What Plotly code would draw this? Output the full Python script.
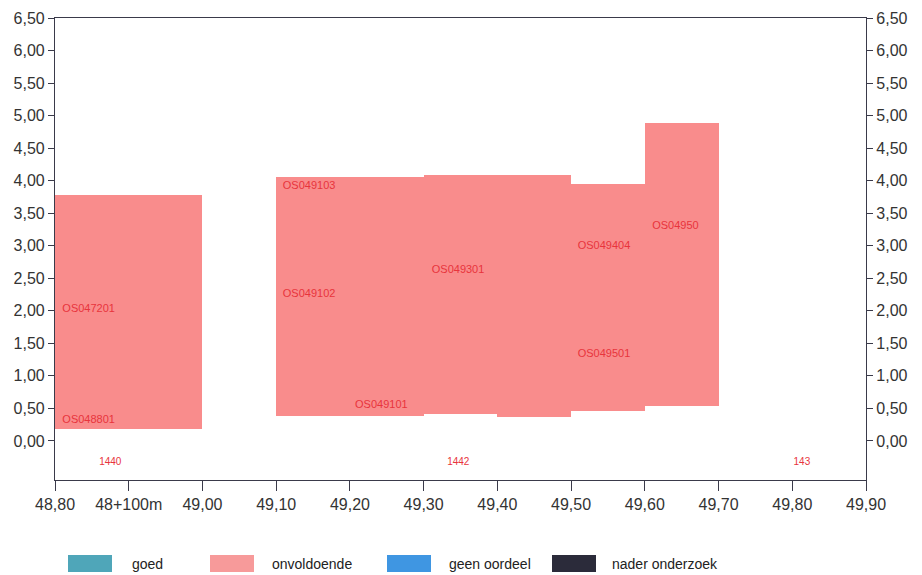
import plotly.graph_objects as go

# ---- data ----
seg_start = [48.80, 49.10, 49.20, 49.30, 49.40, 49.50, 49.60]
seg_end = [49.00, 49.20, 49.30, 49.40, 49.50, 49.60, 49.70]
seg_bottom = [0.18, 0.385, 0.385, 0.415, 0.365, 0.46, 0.54]
seg_top = [3.78, 4.06, 4.05, 4.09, 4.08, 3.95, 4.88]

label_text = ["OS048801", "OS047201", "OS049103", "OS049102", "OS049101",
              "OS049301", "OS049404", "OS049501", "OS04950"]
label_x = [48.810, 48.810, 49.109, 49.109, 49.207, 49.311, 49.509, 49.509, 49.610]
label_y = [0.32, 2.03, 3.92, 2.25, 0.55, 2.62, 3.00, 1.34, 3.30]

km_text = ["1440", "1442", "143"]
km_x = [48.875, 49.347, 49.813]
km_y = [-0.33, -0.33, -0.33]

x_tickvals = [48.80, 48.90, 49.00, 49.10, 49.20, 49.30, 49.40, 49.50, 49.60, 49.70, 49.80, 49.90]
x_ticktext = ["48,80", "48+100m", "49,00", "49,10", "49,20", "49,30", "49,40",
              "49,50", "49,60", "49,70", "49,80", "49,90"]
y_tickvals = [0.0, 0.5, 1.0, 1.5, 2.0, 2.5, 3.0, 3.5, 4.0, 4.5, 5.0, 5.5, 6.0, 6.5]
y_ticktext = ["0,00", "0,50", "1,00", "1,50", "2,00", "2,50", "3,00", "3,50",
              "4,00", "4,50", "5,00", "5,50", "6,00", "6,50"]

legend_names = ["goed", "onvoldoende", "geen oordeel", "nader onderzoek"]
legend_colors = ["#4fa6b9", "#f79a9a", "#3f96e2", "#2b2b3a"]

FILL = "#f98c8c"
LABEL_COLOR = "#e8343c"

W, H = 922, 575
ML, MR, MT, MB = 55, 56, 18, 95
PW, PH = W - ML - MR, H - MT - MB

fig = go.Figure()

centers = [(a + b) / 2 for a, b in zip(seg_start, seg_end)]
widths = [b - a for a, b in zip(seg_start, seg_end)]
heights = [t - b for t, b in zip(seg_top, seg_bottom)]

fig.add_trace(go.Bar(
    x=centers, y=heights, base=seg_bottom, width=widths,
    marker=dict(color=FILL, line=dict(width=0)),
    showlegend=False, hoverinfo="skip",
))

fig.add_trace(go.Scatter(
    x=label_x, y=label_y, text=label_text, mode="text",
    textposition="middle right",
    textfont=dict(family="Liberation Sans, Arial", size=11, color=LABEL_COLOR),
    showlegend=False, hoverinfo="skip",
))
fig.add_trace(go.Scatter(
    x=km_x, y=km_y, text=km_text, mode="text",
    textposition="middle center",
    textfont=dict(family="Liberation Sans, Arial", size=10, color=LABEL_COLOR),
    showlegend=False, hoverinfo="skip",
))
# invisible trace to activate the right axis
fig.add_trace(go.Scatter(x=[48.8], y=[None], yaxis="y2", mode="markers",
                         showlegend=False, hoverinfo="skip"))

tickfont = dict(family="Liberation Sans, Arial", size=16, color="#333333")
axis_line = "#3a3a4a"

fig.update_layout(
    width=W, height=H,
    margin=dict(l=ML, r=MR, t=MT, b=MB, autoexpand=False),
    paper_bgcolor="white", plot_bgcolor="white",
    xaxis=dict(range=[48.80, 49.90], tickvals=x_tickvals, ticktext=x_ticktext,
               showgrid=False, zeroline=False, showline=True, mirror=True,
               linecolor=axis_line, linewidth=1.2, ticks="outside", ticklen=10,
               tickcolor=axis_line, tickfont=tickfont, automargin=False),
    yaxis=dict(range=[-0.6, 6.5], tickvals=y_tickvals, ticktext=y_ticktext,
               showgrid=False, zeroline=False, showline=True,
               linecolor=axis_line, linewidth=1.2, ticks="outside", ticklen=6,
               tickcolor=axis_line, tickfont=tickfont, automargin=False),
    yaxis2=dict(range=[-0.6, 6.5], tickvals=y_tickvals, ticktext=y_ticktext,
                overlaying="y", side="right", showgrid=False, zeroline=False,
                showline=True, linecolor=axis_line, linewidth=1.2,
                ticks="outside", ticklen=6, tickcolor=axis_line, tickfont=tickfont,
                automargin=False),
    bargap=0,
)

def px_to_paper_x(px):
    return (px - ML) / PW

def px_to_paper_y(py):
    return (H - MB - py) / PH

box_left = [68, 210, 387, 552]
box_w = 44
text_left = [130, 270, 447, 610]
for name, col, bx, tx in zip(legend_names, legend_colors, box_left, text_left):
    fig.add_shape(type="rect", xref="paper", yref="paper",
                  x0=px_to_paper_x(bx), x1=px_to_paper_x(bx + box_w),
                  y0=px_to_paper_y(572), y1=px_to_paper_y(555),
                  fillcolor=col, line=dict(width=0))
    fig.add_annotation(text=name, xref="paper", yref="paper",
                       x=px_to_paper_x(tx), y=px_to_paper_y(564),
                       xanchor="left", yanchor="middle", showarrow=False,
                       font=dict(family="Liberation Sans, Arial", size=14, color="#222222"))

fig.write_html("out.html",
               config={"displayModeBar": False},
               post_script="document.body.style.margin='0px';document.body.style.overflow='hidden';")
